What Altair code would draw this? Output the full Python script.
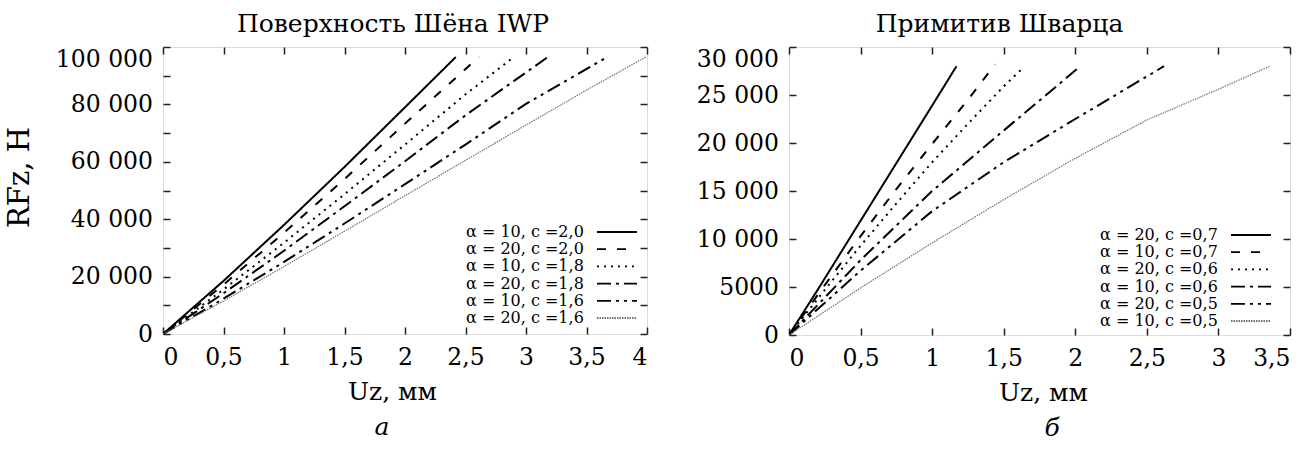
import altair as alt
import pandas as pd

FONT = "DejaVu Serif"

# ---- Panel а: Поверхность Шёна IWP ----
iwp_names = ["α = 10, c =2,0", "α = 20, c =2,0", "α = 10, c =1,8",
             "α = 20, c =1,8", "α = 10, c =1,6", "α = 20, c =1,6"]
iwp_uz = [
    [0, 0.5, 1.0, 1.5, 2.0, 2.42],
    [0, 0.5, 1.0, 1.5, 2.0, 2.61],
    [0, 0.5, 1.0, 1.5, 2.0, 2.5, 2.90],
    [0, 0.5, 1.0, 1.5, 2.0, 2.5, 3.18],
    [0, 0.5, 1.0, 1.5, 2.0, 2.5, 3.0, 3.67],
    [0, 0.5, 1.0, 1.5, 2.0, 2.5, 3.0, 3.5, 3.99],
]
iwp_rf = [
    [0, 18500, 38000, 58200, 79000, 96500],
    [0, 17200, 35300, 54000, 73300, 96500],
    [0, 15500, 31800, 48700, 66000, 83500, 96500],
    [0, 14200, 29000, 44500, 60200, 76200, 96500],
    [0, 12300, 25100, 38500, 52200, 66000, 80200, 96500],
    [0, 11500, 23500, 35800, 48200, 60500, 72800, 85000, 96500],
]

# ---- Panel б: Примитив Шварца ----
sch_names = ["α = 20, c =0,7", "α = 10, c =0,7", "α = 20, c =0,6",
             "α = 10, c =0,6", "α = 20, c =0,5", "α = 10, c =0,5"]
sch_uz = [
    [0, 0.2, 0.4, 0.6, 0.8, 1.0, 1.17],
    [0, 0.25, 0.5, 0.75, 1.0, 1.25, 1.44],
    [0, 0.25, 0.5, 0.75, 1.0, 1.25, 1.5, 1.64],
    [0, 0.5, 1.0, 1.5, 2.02],
    [0, 0.5, 1.0, 1.5, 2.0, 2.62],
    [0, 0.5, 1.0, 1.5, 2.0, 2.5, 3.0, 3.36],
]
sch_rf = [
    [0, 4700, 9500, 14300, 19100, 23900, 28000],
    [0, 5200, 10300, 15200, 19900, 24500, 28200],
    [0, 4700, 9300, 13700, 18000, 22000, 25900, 27900],
    [0, 7800, 15000, 21300, 27800],
    [0, 6700, 12900, 18000, 22500, 28000],
    [0, 4900, 9600, 14100, 18400, 22400, 25600, 28000],
]

iwp_xticks = [0, 0.5, 1, 1.5, 2, 2.5, 3, 3.5, 4]
iwp_yticks = [0, 10000, 20000, 30000, 40000, 50000, 60000, 70000, 80000, 90000, 100000]
sch_xticks = [0, 0.5, 1, 1.5, 2, 2.5, 3, 3.5]
sch_yticks = [0, 5000, 10000, 15000, 20000, 25000, 30000]

dash_range = [[1, 0], [9, 11], [2, 5], [14, 5, 3, 5], [14, 5, 3, 5, 3, 5], [1.5, 1]]
color_range = ["#000000", "#000000", "#000000", "#000000", "#000000", "#707070"]
width_vals = [2, 2, 2, 2, 2, 1.2]


def build_df(names, uz, rf):
    rows = []
    for i, n in enumerate(names):
        for x, y in zip(uz[i], rf[i]):
            rows.append({"series": n, "uz": x, "rf": y, "sw": width_vals[i]})
    return pd.DataFrame(rows)


XLABEL = "replace(format(datum.value, '~g'), '.', ',')"
YLABEL_IWP = ("datum.value % 20000 != 0 ? '' : (datum.value >= 10000 ? "
              "format(datum.value / 1000, 'd') + ' 000' : format(datum.value, 'd'))")
YLABEL_SCH = ("datum.value >= 10000 ? format(datum.value / 1000, 'd') + ' 000' : "
              "format(datum.value, 'd')")


def panel(df, names, xmax, ymax, xticks, yticks, w, h, title, title_dx,
          ylabel_expr, ytitle, xtitle_x, leg_x, leg_y):
    legend = alt.Legend(
        title=None, orient="none", legendX=leg_x, legendY=leg_y,
        labelFont=FONT, labelFontSize=16, labelColor="black",
        labelAlign="left", labelBaseline="middle", labelOffset=0,
        labelLimit=400, symbolType="M27.8,0L35.8,0", symbolSize=100,
        symbolOffset=0, symbolStrokeWidth=1.8, rowPadding=1.2, padding=0,
    )
    y_axis_kw = dict(
        values=yticks, labelExpr=ylabel_expr, ticks=False, domain=False,
        grid=True, gridDash=[7, w - 14, 7, 3000], gridColor="#222222",
        gridWidth=1.5, gridOpacity=1, labelPadding=10.5, labelOverlap=False,
        labelFont=FONT, labelFontSize=23.5, labelColor="black",
        labelBaseline={"condition": {"test": f"datum.value == {ymax}", "value": "top"},
                       "value": "middle"},
    )
    if ytitle:
        y_axis_kw.update(title=ytitle, titleFont=FONT, titleFontSize=29,
                         titleFontWeight="normal", titleColor="black",
                         titleX=-135, titleY=130, titleBaseline="alphabetic")
    else:
        y_axis_kw.update(title=None)
    chart = alt.Chart(df).mark_line(clip=True, strokeCap="butt").encode(
        x=alt.X("uz:Q", scale=alt.Scale(domain=[0, xmax], nice=False, zero=True),
                axis=alt.Axis(values=xticks, labelExpr=XLABEL, ticks=False, domain=False,
                              grid=True, gridDash=[7, h - 14, 7, 3000],
                              gridColor="#222222", gridWidth=1.5, gridOpacity=1,
                              labelPadding=11.5, labelOverlap=False,
                              labelFont=FONT, labelFontSize=23.5, labelColor="black",
                              title="Uz, мм", titleFont=FONT, titleFontSize=25,
                              titleFontWeight="normal", titleColor="black",
                              titleX=xtitle_x, titleY=65, titleBaseline="alphabetic")),
        y=alt.Y("rf:Q", scale=alt.Scale(domain=[0, ymax], nice=False, zero=True),
                axis=alt.Axis(**y_axis_kw)),
        color=alt.Color("series:N", scale=alt.Scale(domain=names, range=color_range),
                        legend=legend),
        strokeDash=alt.StrokeDash("series:N", scale=alt.Scale(domain=names, range=dash_range),
                                  legend=legend),
        strokeWidth=alt.StrokeWidth("sw:Q", scale=None, legend=None),
    ).properties(
        width=w, height=h,
        title=alt.TitleParams(title, font=FONT, fontSize=25, fontWeight="normal",
                              color="black", anchor="middle", frame="group",
                              baseline="alphabetic", offset=-10, dx=title_dx),
    )
    return chart


left = panel(build_df(iwp_names, iwp_uz, iwp_rf), iwp_names, 4, 100000,
             iwp_xticks, iwp_yticks, 484, 287, "Поверхность Шёна IWP", -12,
             YLABEL_IWP, "RFz, Н", 229, 287, 177)
right = panel(build_df(sch_names, sch_uz, sch_rf), sch_names, 3.5, 30000,
              sch_xticks, sch_yticks, 501, 288, "Примитив Шварца", -40,
              YLABEL_SCH, None, 254, 295, 180)

bottom_kw = dict(orient="bottom", font=FONT, fontSize=25, fontStyle="italic",
                 fontWeight="normal", color="black", anchor="middle",
                 baseline="alphabetic", offset=30)
left_w = alt.vconcat(left).properties(title=alt.TitleParams("а", dx=56, **bottom_kw))
right_w = alt.vconcat(right).properties(title=alt.TitleParams("б", dx=59, **bottom_kw))

chart = alt.hconcat(left_w, right_w, spacing=47).resolve_scale(
    color="independent", strokeDash="independent"
).resolve_legend(
    color="independent", strokeDash="independent"
).properties(
    padding={"left": 4, "top": 11, "right": 5, "bottom": 0}
).configure_view(
    stroke="#222222", strokeWidth=1.8
).configure(background="white")

chart.save("out.html", embed_options={"renderer": "svg", "actions": False})
